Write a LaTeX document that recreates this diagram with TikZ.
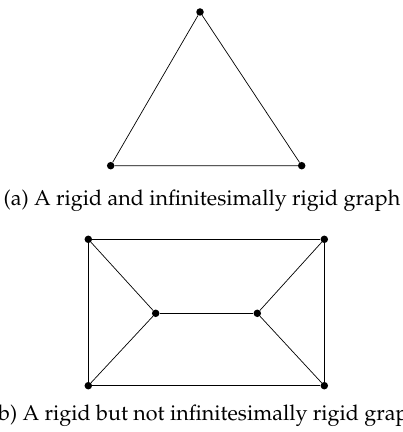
\documentclass[tikz,border=0pt]{standalone}
\usepackage[T1]{fontenc}
\usepackage{mathpazo}
\begin{document}
\begin{tikzpicture}[x=1pt,y=1pt,
  vtx/.style={circle,fill=black,inner sep=0pt,minimum size=7.5pt},
  edge/.style={line width=0.7pt},
  captext/.style={font=\fontsize{21.5}{25}\selectfont,inner sep=0pt,anchor=base}]
\useasboundingbox (0,0) rectangle (403,432);
\clip (0,0) rectangle (403,432);
% (a) triangle
\node[vtx] (t) at (200,420) {};
\node[vtx] (l) at (110.7,266.3) {};
\node[vtx] (r) at (301.7,266.3) {};
\draw[edge] (t) -- (l) -- (r) -- (t);
\node[captext] (capa) at (202,226) {(a) A rigid and infinitesimally rigid graph};
% (b)
\node[vtx] (tl) at (88.3,192.7) {};
\node[vtx] (tr) at (324.3,192.7) {};
\node[vtx] (il) at (155.7,118.7) {};
\node[vtx] (ir) at (257.3,118.7) {};
\node[vtx] (bl) at (88.3,46.3) {};
\node[vtx] (br) at (324.3,46.3) {};
\draw[edge] (tl) -- (tr) -- (br) -- (bl) -- (tl);
\draw[edge] (tl) -- (il) -- (bl);
\draw[edge] (tr) -- (ir) -- (br);
\draw[edge] (il) -- (ir);
\node[captext] (capb) at (206,11.3) {(b) A rigid but not infinitesimally rigid graph};
\end{tikzpicture}
\end{document}
